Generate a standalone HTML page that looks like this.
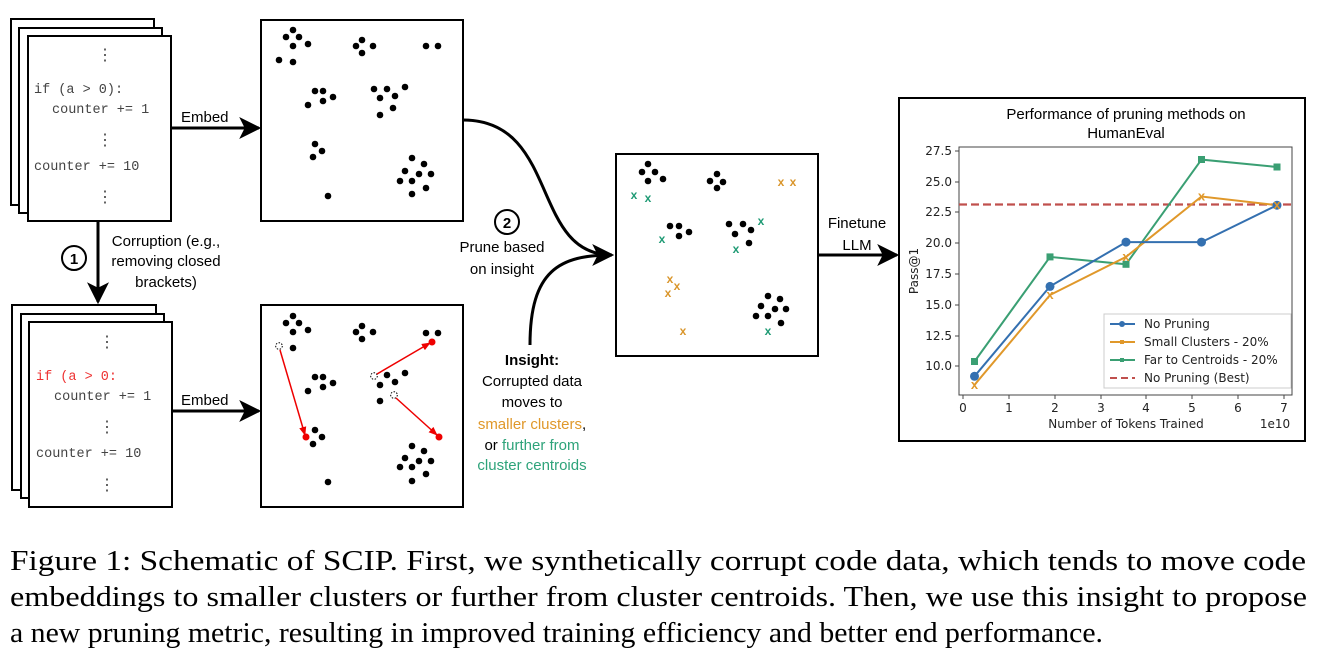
<!DOCTYPE html>
<html><head><meta charset="utf-8"><style>
html,body{margin:0;padding:0;background:#fff}
svg{display:block}
.m{font-family:"Liberation Mono",monospace;font-size:13.5px;fill:#444}
.s{font-family:"Liberation Sans",sans-serif;font-size:15px;fill:#000}
.t{font-family:"DejaVu Sans","Liberation Sans",sans-serif;font-size:12px;fill:#222}
.c{font-family:"Liberation Serif",serif;font-size:28px;fill:#000}
</style></head><body>
<svg width="1321" height="655" viewBox="0 0 1321 655" xmlns="http://www.w3.org/2000/svg">
<defs>
<marker id="ah" markerWidth="10" markerHeight="10" refX="9" refY="5" orient="auto" markerUnits="userSpaceOnUse"><path d="M0,0 L10,5 L0,10 L3,5 Z" fill="#000"/></marker>
<marker id="big" viewBox="0 0 20 20" markerWidth="22" markerHeight="22" refX="18" refY="10" orient="auto" markerUnits="userSpaceOnUse"><path d="M0,0 L20,10 L0,20 L5,10 Z" fill="#000"/></marker>
<marker id="ra" viewBox="0 0 10 10" markerWidth="9" markerHeight="9" refX="9" refY="5" orient="auto" markerUnits="userSpaceOnUse"><path d="M0,1 L10,5 L0,9 Z" fill="#e00"/></marker>
</defs>
<g fill="#fff" stroke="#000" stroke-width="2">
<rect x="11" y="19" width="143" height="186"/><rect x="19" y="28" width="143" height="185"/><rect x="28" y="36" width="143" height="185"/>
<rect x="12" y="305" width="144" height="185"/><rect x="21" y="314" width="143" height="184"/><rect x="29" y="322" width="143" height="185"/>
<rect x="261" y="20" width="202" height="201"/><rect x="261" y="305" width="202" height="202"/>
<rect x="616" y="154" width="202" height="202"/>
</g>
<!-- code text top -->
<g class="m">
<text x="97" y="60" font-size="16">⋮</text>
<text x="34" y="93">if (a &gt; 0):</text>
<text x="52" y="113">counter += 1</text>
<text x="97" y="145" font-size="16">⋮</text>
<text x="34" y="170">counter += 10</text>
<text x="97" y="202" font-size="16">⋮</text>
<text x="99" y="347" font-size="16">⋮</text>
<text x="36" y="380" fill="#e33">if (a &gt; 0:</text>
<text x="54" y="400">counter += 1</text>
<text x="99" y="432" font-size="16">⋮</text>
<text x="36" y="457">counter += 10</text>
<text x="99" y="490" font-size="16">⋮</text>
</g>
<!-- embed arrows -->
<line x1="171" y1="128" x2="259" y2="128" stroke="#000" stroke-width="3" marker-end="url(#big)"/>
<line x1="172" y1="411" x2="259" y2="411" stroke="#000" stroke-width="3" marker-end="url(#big)"/>
<text class="s" x="181" y="122" font-size="16">Embed</text>
<text class="s" x="181" y="405" font-size="16">Embed</text>
<!-- corruption -->
<line x1="98" y1="221" x2="98" y2="302" stroke="#000" stroke-width="3" marker-end="url(#big)"/>
<circle cx="74" cy="258" r="12" fill="#fff" stroke="#000" stroke-width="2"/>
<text class="s" x="74" y="264" text-anchor="middle" font-weight="bold" font-size="16">1</text>
<g class="s" text-anchor="middle"><text x="166" y="246">Corruption (e.g.,</text><text x="166" y="266">removing closed</text><text x="166" y="287">brackets)</text></g>
<!-- dots top box -->
<g fill="#000">
<circle cx="293" cy="30" r="3.3"/><circle cx="286" cy="37" r="3.3"/><circle cx="299" cy="37" r="3.3"/><circle cx="293" cy="46" r="3.3"/><circle cx="308" cy="44" r="3.3"/><circle cx="279" cy="60" r="3.3"/><circle cx="293" cy="62" r="3.3"/>
<circle cx="362" cy="40" r="3.3"/><circle cx="356" cy="46" r="3.3"/><circle cx="373" cy="46" r="3.3"/><circle cx="362" cy="53" r="3.3"/>
<circle cx="426" cy="46" r="3.3"/><circle cx="438" cy="46" r="3.3"/>
<circle cx="315" cy="91" r="3.3"/><circle cx="323" cy="91" r="3.3"/><circle cx="308" cy="105" r="3.3"/><circle cx="323" cy="101" r="3.3"/><circle cx="333" cy="97" r="3.3"/>
<circle cx="374" cy="89" r="3.3"/><circle cx="387" cy="89" r="3.3"/><circle cx="380" cy="98" r="3.3"/><circle cx="395" cy="96" r="3.3"/><circle cx="393" cy="108" r="3.3"/><circle cx="380" cy="115" r="3.3"/><circle cx="405" cy="87" r="3.3"/>
<circle cx="315" cy="144" r="3.3"/><circle cx="322" cy="151" r="3.3"/><circle cx="313" cy="157" r="3.3"/>
<circle cx="328" cy="196" r="3.3"/>
<circle cx="412" cy="158" r="3.3"/><circle cx="424" cy="164" r="3.3"/><circle cx="405" cy="171" r="3.3"/><circle cx="419" cy="174" r="3.3"/><circle cx="431" cy="174" r="3.3"/><circle cx="400" cy="181" r="3.3"/><circle cx="412" cy="181" r="3.3"/><circle cx="426" cy="188" r="3.3"/><circle cx="412" cy="194" r="3.3"/>
</g>
<!-- dots bottom box -->
<g fill="#000">
<circle cx="293" cy="316" r="3.3"/><circle cx="286" cy="323" r="3.3"/><circle cx="299" cy="323" r="3.3"/><circle cx="293" cy="332" r="3.3"/><circle cx="308" cy="330" r="3.3"/><circle cx="293" cy="348" r="3.3"/>
<circle cx="362" cy="326" r="3.3"/><circle cx="356" cy="332" r="3.3"/><circle cx="373" cy="332" r="3.3"/><circle cx="362" cy="339" r="3.3"/>
<circle cx="426" cy="333" r="3.3"/><circle cx="438" cy="333" r="3.3"/>
<circle cx="315" cy="377" r="3.3"/><circle cx="323" cy="377" r="3.3"/><circle cx="308" cy="391" r="3.3"/><circle cx="323" cy="387" r="3.3"/><circle cx="333" cy="383" r="3.3"/>
<circle cx="387" cy="375" r="3.3"/><circle cx="380" cy="385" r="3.3"/><circle cx="395" cy="382" r="3.3"/><circle cx="380" cy="401" r="3.3"/><circle cx="405" cy="373" r="3.3"/>
<circle cx="315" cy="430" r="3.3"/><circle cx="322" cy="437" r="3.3"/><circle cx="313" cy="444" r="3.3"/>
<circle cx="328" cy="482" r="3.3"/>
<circle cx="412" cy="446" r="3.3"/><circle cx="424" cy="451" r="3.3"/><circle cx="405" cy="458" r="3.3"/><circle cx="419" cy="461" r="3.3"/><circle cx="431" cy="461" r="3.3"/><circle cx="400" cy="467" r="3.3"/><circle cx="412" cy="467" r="3.3"/><circle cx="426" cy="474" r="3.3"/><circle cx="412" cy="481" r="3.3"/>
</g>
<g fill="#fff" stroke="#000" stroke-width="1" stroke-dasharray="1.5,1.5">
<circle cx="279" cy="346" r="3.3"/><circle cx="374" cy="376" r="3.3"/><circle cx="394" cy="395" r="3.3"/>
</g>
<g stroke="#e00" stroke-width="1.5" fill="none">
<line x1="280" y1="350" x2="305" y2="435" marker-end="url(#ra)"/>
<line x1="377" y1="374" x2="430" y2="343" marker-end="url(#ra)"/>
<line x1="396" y1="398" x2="437" y2="435" marker-end="url(#ra)"/>
</g>
<g fill="#e00"><circle cx="306" cy="437" r="3.5"/><circle cx="432" cy="342" r="3.5"/><circle cx="439" cy="437" r="3.5"/></g>
<!-- curved prune arrows -->
<path d="M463,120 C560,120 530,255 612,255" fill="none" stroke="#000" stroke-width="3" marker-end="url(#big)"/>
<path d="M530,345 C530,270 560,255 612,255" fill="none" stroke="#000" stroke-width="3"/>
<circle cx="507" cy="222" r="12" fill="#fff" stroke="#000" stroke-width="2"/>
<text class="s" x="507" y="228" text-anchor="middle" font-weight="bold" font-size="16">2</text>
<g class="s" text-anchor="middle"><text x="502" y="252">Prune based</text><text x="502" y="274">on insight</text></g>
<g class="s" text-anchor="middle">
<text x="532" y="365" font-weight="bold">Insight:</text>
<text x="532" y="386">Corrupted data</text>
<text x="532" y="407">moves to</text>
<text x="532" y="429"><tspan fill="#e0982a">smaller clusters</tspan>,</text>
<text x="532" y="450">or <tspan fill="#2ea37a">further from</tspan></text>
<text x="532" y="470" fill="#2ea37a">cluster centroids</text>
</g>
<!-- middle box -->
<g fill="#000">
<circle cx="648" cy="164" r="3.3"/><circle cx="642" cy="172" r="3.3"/><circle cx="655" cy="172" r="3.3"/><circle cx="648" cy="181" r="3.3"/><circle cx="663" cy="179" r="3.3"/>
<circle cx="717" cy="174" r="3.3"/><circle cx="710" cy="181" r="3.3"/><circle cx="723" cy="182" r="3.3"/><circle cx="717" cy="188" r="3.3"/>
<circle cx="670" cy="226" r="3.3"/><circle cx="679" cy="226" r="3.3"/><circle cx="679" cy="236" r="3.3"/><circle cx="689" cy="232" r="3.3"/>
<circle cx="729" cy="224" r="3.3"/><circle cx="743" cy="224" r="3.3"/><circle cx="735" cy="234" r="3.3"/><circle cx="751" cy="230" r="3.3"/><circle cx="749" cy="243" r="3.3"/>
<circle cx="768" cy="296" r="3.3"/><circle cx="780" cy="299" r="3.3"/><circle cx="761" cy="306" r="3.3"/><circle cx="775" cy="309" r="3.3"/><circle cx="786" cy="309" r="3.3"/><circle cx="756" cy="316" r="3.3"/><circle cx="768" cy="316" r="3.3"/><circle cx="781" cy="323" r="3.3"/>
</g>
<g font-family="Liberation Sans,sans-serif" font-size="12" font-weight="bold" text-anchor="middle">
<g fill="#d9952a"><text x="781" y="186">x</text><text x="793" y="186">x</text><text x="670" y="283">x</text><text x="677" y="290">x</text><text x="668" y="297">x</text><text x="683" y="335">x</text></g>
<g fill="#1e9a74"><text x="634" y="199">x</text><text x="648" y="202">x</text><text x="662" y="243">x</text><text x="761" y="225">x</text><text x="736" y="253">x</text><text x="768" y="335">x</text></g>
</g>
<line x1="818" y1="255" x2="897" y2="255" stroke="#000" stroke-width="3" marker-end="url(#big)"/>
<g class="s" text-anchor="middle"><text x="857" y="228">Finetune</text><text x="857" y="250">LLM</text></g>
<!-- chart -->
<rect x="899" y="98" width="406" height="343" fill="#fff" stroke="#000" stroke-width="2"/>
<g class="s" text-anchor="middle" font-size="14.5"><text x="1126" y="119">Performance of pruning methods on</text><text x="1126" y="138">HumanEval</text></g>
<rect x="959" y="147" width="333" height="248" fill="none" stroke="#444" stroke-width="1"/>
<g class="t" text-anchor="end">
<text x="952" y="155">27.5</text><text x="952" y="186">25.0</text><text x="952" y="216">22.5</text><text x="952" y="247">20.0</text><text x="952" y="278">17.5</text><text x="952" y="309">15.0</text><text x="952" y="340">12.5</text><text x="952" y="370">10.0</text>
</g>
<g stroke="#444"><line x1="955" y1="151" x2="959" y2="151"/><line x1="955" y1="182" x2="959" y2="182"/><line x1="955" y1="212" x2="959" y2="212"/><line x1="955" y1="243" x2="959" y2="243"/><line x1="955" y1="274" x2="959" y2="274"/><line x1="955" y1="305" x2="959" y2="305"/><line x1="955" y1="336" x2="959" y2="336"/><line x1="955" y1="366" x2="959" y2="366"/>
<line x1="963" y1="395" x2="963" y2="399"/><line x1="1009" y1="395" x2="1009" y2="399"/><line x1="1055" y1="395" x2="1055" y2="399"/><line x1="1101" y1="395" x2="1101" y2="399"/><line x1="1146" y1="395" x2="1146" y2="399"/><line x1="1192" y1="395" x2="1192" y2="399"/><line x1="1238" y1="395" x2="1238" y2="399"/><line x1="1284" y1="395" x2="1284" y2="399"/></g>
<g class="t" text-anchor="middle">
<text x="963" y="412">0</text><text x="1009" y="412">1</text><text x="1055" y="412">2</text><text x="1101" y="412">3</text><text x="1146" y="412">4</text><text x="1192" y="412">5</text><text x="1238" y="412">6</text><text x="1284" y="412">7</text>
<text x="1126" y="428">Number of Tokens Trained</text><text x="1275" y="428">1e10</text>
<text x="0" y="0" transform="translate(918,271) rotate(-90)">Pass@1</text>
</g>
<line x1="959" y1="204.5" x2="1292" y2="204.5" stroke="#c0504d" stroke-width="2.2" stroke-dasharray="8,4"/>
<polyline points="974.5,361.5 1050,256.9 1126,264.3 1201.5,159.6 1277,167" fill="none" stroke="#3a9f73" stroke-width="2"/>
<polyline points="974.5,384.9 1050,295 1126,256.9 1201.5,196.5 1277,205.2" fill="none" stroke="#e0982a" stroke-width="2"/>
<polyline points="974.5,376.3 1050,286.4 1126,242.1 1201.5,242.1 1277,205.2" fill="none" stroke="#3470b0" stroke-width="2"/>
<g fill="#3a9f73"><rect x="971" y="358" width="7" height="7"/><rect x="1046.5" y="253.4" width="7" height="7"/><rect x="1122.5" y="260.8" width="7" height="7"/><rect x="1198" y="156" width="7" height="7"/><rect x="1273.5" y="163.5" width="7" height="7"/></g>
<g fill="#3470b0"><circle cx="974.5" cy="376.3" r="4.5"/><circle cx="1050" cy="286.4" r="4.5"/><circle cx="1126" cy="242.1" r="4.5"/><circle cx="1201.5" cy="242.1" r="4.5"/><circle cx="1277" cy="205.2" r="4.5"/></g>
<g font-family="Liberation Sans,sans-serif" font-size="13" font-weight="bold" fill="#e0982a" text-anchor="middle"><text x="974.5" y="389">x</text><text x="1050" y="299">x</text><text x="1126" y="261">x</text><text x="1201.5" y="200.5">x</text><text x="1277" y="209">x</text></g>
<rect x="1104" y="314" width="187" height="74" fill="#fff" stroke="#ccc" stroke-width="1"/>
<g stroke-width="2"><line x1="1110" y1="324" x2="1135" y2="324" stroke="#3470b0"/><line x1="1110" y1="342" x2="1135" y2="342" stroke="#e0982a"/><line x1="1110" y1="360" x2="1135" y2="360" stroke="#3a9f73"/><line x1="1110" y1="378" x2="1135" y2="378" stroke="#c0504d" stroke-dasharray="7,4"/></g>
<circle cx="1122" cy="324" r="3" fill="#3470b0"/><rect x="1120" y="340" width="4" height="4" fill="#e0982a"/><rect x="1120" y="358" width="4" height="4" fill="#3a9f73"/>
<g class="t"><text x="1144" y="328">No Pruning</text><text x="1144" y="346">Small Clusters - 20%</text><text x="1144" y="364">Far to Centroids - 20%</text><text x="1144" y="382">No Pruning (Best)</text></g>
<!-- caption -->
<g class="c">
<text x="10" y="570" textLength="1296" lengthAdjust="spacingAndGlyphs">Figure 1: Schematic of SCIP. First, we synthetically corrupt code data, which tends to move code</text>
<text x="10" y="606" textLength="1297" lengthAdjust="spacingAndGlyphs">embeddings to smaller clusters or further from cluster centroids. Then, we use this insight to propose</text>
<text x="10" y="642" textLength="1093" lengthAdjust="spacingAndGlyphs">a new pruning metric, resulting in improved training efficiency and better end performance.</text>
</g>
</svg>
</body></html>
